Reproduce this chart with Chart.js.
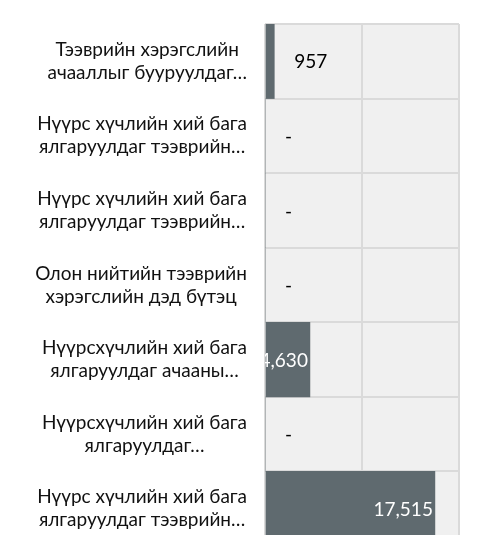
<!DOCTYPE html>
<html>
<head>
<meta charset="utf-8">
<script src="https://cdn.jsdelivr.net/npm/chart.js@4.4.1/dist/chart.umd.min.js"></script>
<style>
html, body { margin: 0; padding: 0; background: #fff; overflow: hidden; }
#wrap { width: 477px; height: 560px; }
</style>
</head>
<body>
<div id="wrap"><canvas id="chart"></canvas></div>
<script>
// ангилал
const labels = [
  ["Тээврийн хэрэгслийн", "ачааллыг бууруулдаг…"],
  ["Нүүрс хүчлийн хий бага", "ялгаруулдаг тээврийн…"],
  ["Нүүрс хүчлийн хий бага", "ялгаруулдаг тээврийн…"],
  ["Олон нийтийн тээврийн", "хэрэгслийн дэд бүтэц"],
  ["Нүүрсхүчлийн хий бага", "ялгаруулдаг ачааны…"],
  ["Нүүрсхүчлийн хий бага", "ялгаруулдаг…"],
  ["Нүүрс хүчлийн хий бага", "ялгаруулдаг тээврийн…"]
];

// утгууд
const values = [957, 0, 0, 0, 4630, 0, 17515];

// x тэнхлэг
const xMax = 20000;
const xStep = 10000;

const FONT = "Lato, sans-serif";

// дэвсгэр
const bgPlugin = {
  id: "bg",
  beforeDraw(chart) {
    const a = chart.chartArea;
    const ctx = chart.ctx;
    ctx.save();
    ctx.fillStyle = "#f0f0f0";
    ctx.fillRect(a.left, a.top, a.right - a.left, a.bottom - a.top);
    ctx.restore();
  }
};

// шошго
const labelPlugin = {
  id: "labelsDraw",
  afterDraw(chart) {
    const ctx = chart.ctx;
    const y = chart.scales.y;
    const a = chart.chartArea;
    const meta = chart.getDatasetMeta(0);
    ctx.save();
    // категорийн нэрс
    ctx.font = "19px " + FONT;
    ctx.fillStyle = "#111";
    ctx.textAlign = "center";
    ctx.textBaseline = "middle";
    labels.forEach((lines, i) => {
      const cy = y.getPixelForValue(i);
      const w = Math.max(...lines.map(l => ctx.measureText(l).width));
      const cx = 247 - w / 2;
      lines.forEach((l, j) => {
        ctx.fillText(l, cx, cy + (j - (lines.length - 1) / 2) * 23);
      });
    });
    // утгын шошго
    ctx.beginPath();
    ctx.rect(a.left, a.top, a.right - a.left, a.bottom - a.top);
    ctx.clip();
    ctx.font = "19px " + FONT;
    meta.data.forEach((bar, i) => {
      const v = values[i];
      const txt = v === 0 ? "-" : v.toLocaleString("en-US");
      const bw = bar.x - bar.base;
      if (bw < 25) {
        ctx.fillStyle = "#000";
        ctx.textAlign = "left";
        ctx.fillText(txt, bar.x + 20, bar.y + 1);
      } else {
        ctx.fillStyle = "#fff";
        ctx.textAlign = "right";
        ctx.fillText(txt, bar.x - 2, bar.y + 1);
      }
    });
    ctx.restore();
  }
};

new Chart(document.getElementById("chart"), {
  type: "bar",
  data: {
    labels: labels,
    datasets: [{
      data: values,
      backgroundColor: "#5f6a6f",
      barPercentage: 1,
      categoryPercentage: 1,
      borderWidth: 0
    }]
  },
  options: {
    indexAxis: "y",
    responsive: true,
    maintainAspectRatio: false,
    animation: false,
    layout: { padding: { top: 24, right: 18, bottom: 14, left: 0 } },
    plugins: { legend: { display: false }, tooltip: { enabled: false } },
    scales: {
      x: {
        min: 0,
        max: xMax,
        ticks: { stepSize: xStep, display: false },
        grid: { color: "#dadada", lineWidth: 2, drawTicks: false },
        border: { display: false }
      },
      y: {
        ticks: { display: false },
        grid: { color: "#dadada", lineWidth: 2, drawTicks: false, offset: true },
        border: { display: false },
        afterFit(scale) { scale.width = 265; }
      }
    }
  },
  plugins: [bgPlugin, labelPlugin]
});
</script>
</body>
</html>
